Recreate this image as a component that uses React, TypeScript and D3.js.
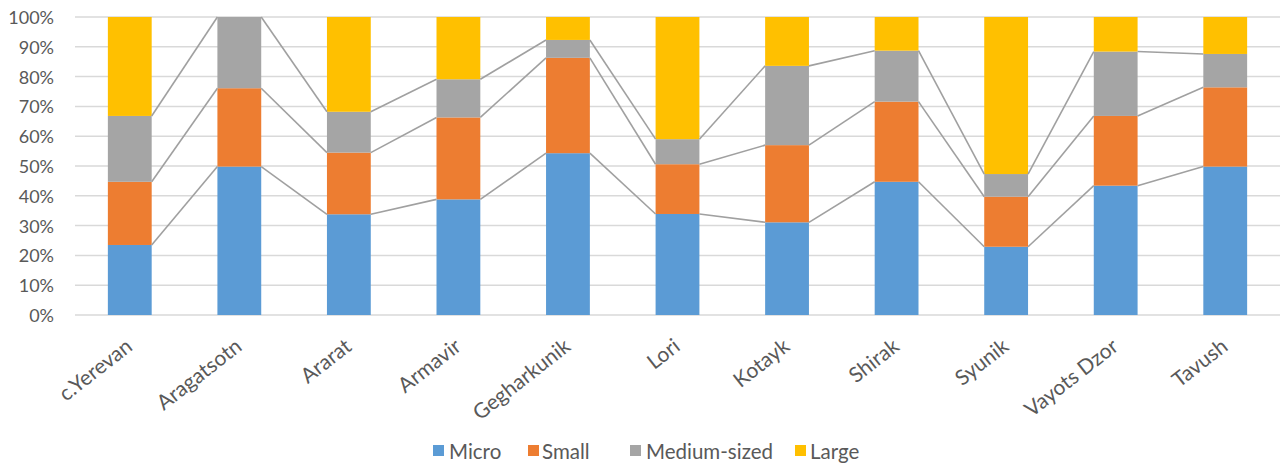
import React from "react";
import * as d3 from "d3";

const categories = ["c.Yerevan", "Aragatsotn", "Ararat", "Armavir", "Gegharkunik", "Lori", "Kotayk", "Shirak", "Syunik", "Vayots Dzor", "Tavush"];
const seriesNames = ["Micro", "Small", "Medium-sized", "Large"];
const micro = [23.5, 49.8, 33.8, 38.8, 54.3, 33.9, 31.1, 44.7, 22.9, 43.4, 49.8];
const small = [21.2, 26.3, 20.7, 27.5, 32.0, 16.7, 25.9, 26.9, 16.8, 23.4, 26.6];
const medium = [22.1, 23.9, 13.7, 12.8, 6.0, 8.4, 26.6, 17.1, 7.6, 21.6, 11.2];
const large = [33.2, 0.0, 31.8, 20.9, 7.7, 41.0, 16.4, 11.3, 52.7, 11.6, 12.4];
const yTicks = [0, 0.1, 0.2, 0.3, 0.4, 0.5, 0.6, 0.7, 0.8, 0.9, 1.0];
const colors = ["#5b9bd5", "#ed7d31", "#a5a5a5", "#ffc000"];

const W = 1283;
const H = 465;
const FONT = "Lato, 'Open Sans', sans-serif";
const TEXT = "#595959";

export default function App() {
  const rows = categories.map((c, i) => {
    const vals = [micro[i], small[i], medium[i], large[i]];
    const tot = d3.sum(vals);
    const o: any = { cat: c };
    seriesNames.forEach((s, k) => (o[s] = vals[k] / tot));
    return o;
  });
  const stacked = d3.stack().keys(seriesNames)(rows);

  const x = d3.scaleBand().domain(categories).range([75, 1280]).paddingInner(0.6).paddingOuter(0.3);
  const y = d3.scaleLinear().domain([0, 1]).range([315, 17]);
  const bw = x.bandwidth();

  const seriesLines: JSX.Element[] = [];
  stacked.slice(0, 3).forEach((layer, k) => {
    for (let i = 0; i < categories.length - 1; i++) {
      const a = layer[i][1];
      const b = layer[i + 1][1];
      seriesLines.push(
        <line
          key={`sl-${k}-${i}`}
          x1={(x(categories[i]) as number) + bw}
          y1={y(a)}
          x2={x(categories[i + 1]) as number}
          y2={y(b)}
          stroke="#a0a0a0"
          strokeWidth={1.6}
        />
      );
    }
  });

  const legendItems = [
    { name: "Micro", sq: 433, tx: 449 },
    { name: "Small", sq: 528, tx: 542 },
    { name: "Medium-sized", sq: 630, tx: 646 },
    { name: "Large", sq: 795, tx: 810 },
  ];

  return (
    <svg width={W} height={H} style={{ position: "absolute", left: 0, top: 0, background: "#fff" }}>
      <rect x={0} y={0} width={W} height={H} fill="#fff" />
      {yTicks.map((t) => (
        <g key={t}>
          <line x1={75} x2={1280} y1={y(t)} y2={y(t)} stroke="#d9d9d9" strokeWidth={1.5} />
          <text
            x={54}
            y={y(t)}
            textAnchor="end"
            dominantBaseline="central"
            fontFamily={FONT}
            fontSize={18}
            fill={TEXT}
          >
            {d3.format(".0%")(t)}
          </text>
        </g>
      ))}
      {stacked.map((layer, k) => (
        <g key={layer.key} fill={colors[k]}>
          {layer.map((d, i) => (
            <rect
              key={i}
              x={x(categories[i]) as number}
              y={y(d[1])}
              width={bw}
              height={Math.max(0, y(d[0]) - y(d[1]))}
            />
          ))}
        </g>
      ))}
      {seriesLines}
      {categories.map((c) => {
        const cx = (x(c) as number) + bw / 2;
        return (
          <text
            key={c}
            transform={`translate(${cx + 4},${349}) rotate(-38)`}
            textAnchor="end"
            fontFamily={FONT}
            fontSize={21}
            fill={TEXT}
          >
            {c}
          </text>
        );
      })}
      {legendItems.map((l, k) => (
        <g key={l.name}>
          <rect x={l.sq} y={445} width={11} height={11} fill={colors[k]} />
          <text
            x={l.tx}
            y={451}
            dominantBaseline="central"
            fontFamily={FONT}
            fontSize={20.5}
            fill={TEXT}
          >
            {l.name}
          </text>
        </g>
      ))}
    </svg>
  );
}
